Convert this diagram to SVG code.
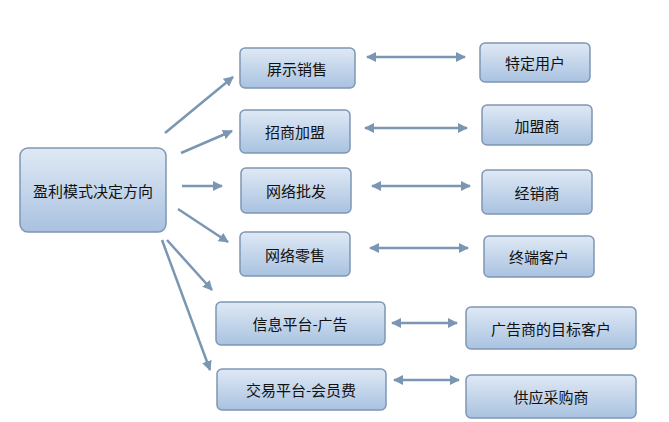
<svg xmlns="http://www.w3.org/2000/svg" width="669" height="422" viewBox="0 0 669 422">
<defs>
<linearGradient id="g" x1="0" y1="0" x2="0" y2="1"><stop offset="0" stop-color="#dfe9f5"/><stop offset="1" stop-color="#a9c2e0"/></linearGradient>
<marker id="a" viewBox="0 0 10 10" refX="9" refY="5" markerWidth="4" markerHeight="4" orient="auto-start-reverse"><path d="M0,0L10,5L0,10z" fill="#7b96b3"/></marker>
</defs>
<style>
.n rect{fill:url(#g);stroke:#7e97b4;stroke-width:1.5}
.n text{font-family:"Noto Sans CJK SC",sans-serif;font-size:15px;fill:#111;text-anchor:middle;dominant-baseline:central}
#c line{stroke:#7b96b3;stroke-width:2.5;marker-end:url(#a)}
#c .d{marker-start:url(#a)}
</style>
<rect width="669" height="422" fill="#fff"/>
<g id="c">
<line x1="165" y1="133" x2="233" y2="77"/>
<line x1="181" y1="153" x2="232" y2="131"/>
<line x1="182" y1="186" x2="222" y2="186"/>
<line x1="178" y1="209" x2="228" y2="242"/>
<line x1="167" y1="240" x2="212" y2="290"/>
<line x1="162" y1="240" x2="210" y2="370"/>
<line class="d" x1="367" y1="57" x2="465" y2="57"/>
<line class="d" x1="365" y1="128" x2="467" y2="128"/>
<line class="d" x1="372" y1="186" x2="470" y2="186"/>
<line class="d" x1="370" y1="248" x2="468" y2="248"/>
<line class="d" x1="392" y1="323" x2="457" y2="323"/>
<line class="d" x1="394" y1="380" x2="459" y2="380"/>
</g>
<g id="root" class="n"><rect x="20" y="148" width="146" height="84" rx="8"/><text x="93" y="190">盈利模式决定方向</text></g>
<g id="n1" class="n"><rect x="240" y="48" width="115" height="40" rx="5"/><text x="297" y="68">屏示销售</text></g>
<g id="n2" class="n"><rect x="240" y="110" width="110" height="43" rx="5"/><text x="295" y="131">招商加盟</text></g>
<g id="n3" class="n"><rect x="241" y="168" width="110" height="45" rx="5"/><text x="296" y="190">网络批发</text></g>
<g id="n4" class="n"><rect x="240" y="232" width="110" height="44" rx="5"/><text x="295" y="254">网络零售</text></g>
<g id="n5" class="n"><rect x="216" y="302" width="169" height="43" rx="5"/><text x="300" y="323">信息平台-广告</text></g>
<g id="n6" class="n"><rect x="217" y="369" width="169" height="41" rx="5"/><text x="301" y="389">交易平台-会员费</text></g>
<g id="r1" class="n"><rect x="480" y="43" width="110" height="39" rx="5"/><text x="535" y="62">特定用户</text></g>
<g id="r2" class="n"><rect x="482" y="105" width="110" height="40" rx="5"/><text x="537" y="125">加盟商</text></g>
<g id="r3" class="n"><rect x="482" y="170" width="110" height="44" rx="5"/><text x="537" y="192">经销商</text></g>
<g id="r4" class="n"><rect x="484" y="236" width="110" height="41" rx="5"/><text x="539" y="256">终端客户</text></g>
<g id="r5" class="n"><rect x="466" y="307" width="170" height="42" rx="5"/><text x="551" y="328">广告商的目标客户</text></g>
<g id="r6" class="n"><rect x="466" y="375" width="170" height="43" rx="5"/><text x="551" y="396">供应采购商</text></g>
</svg>
